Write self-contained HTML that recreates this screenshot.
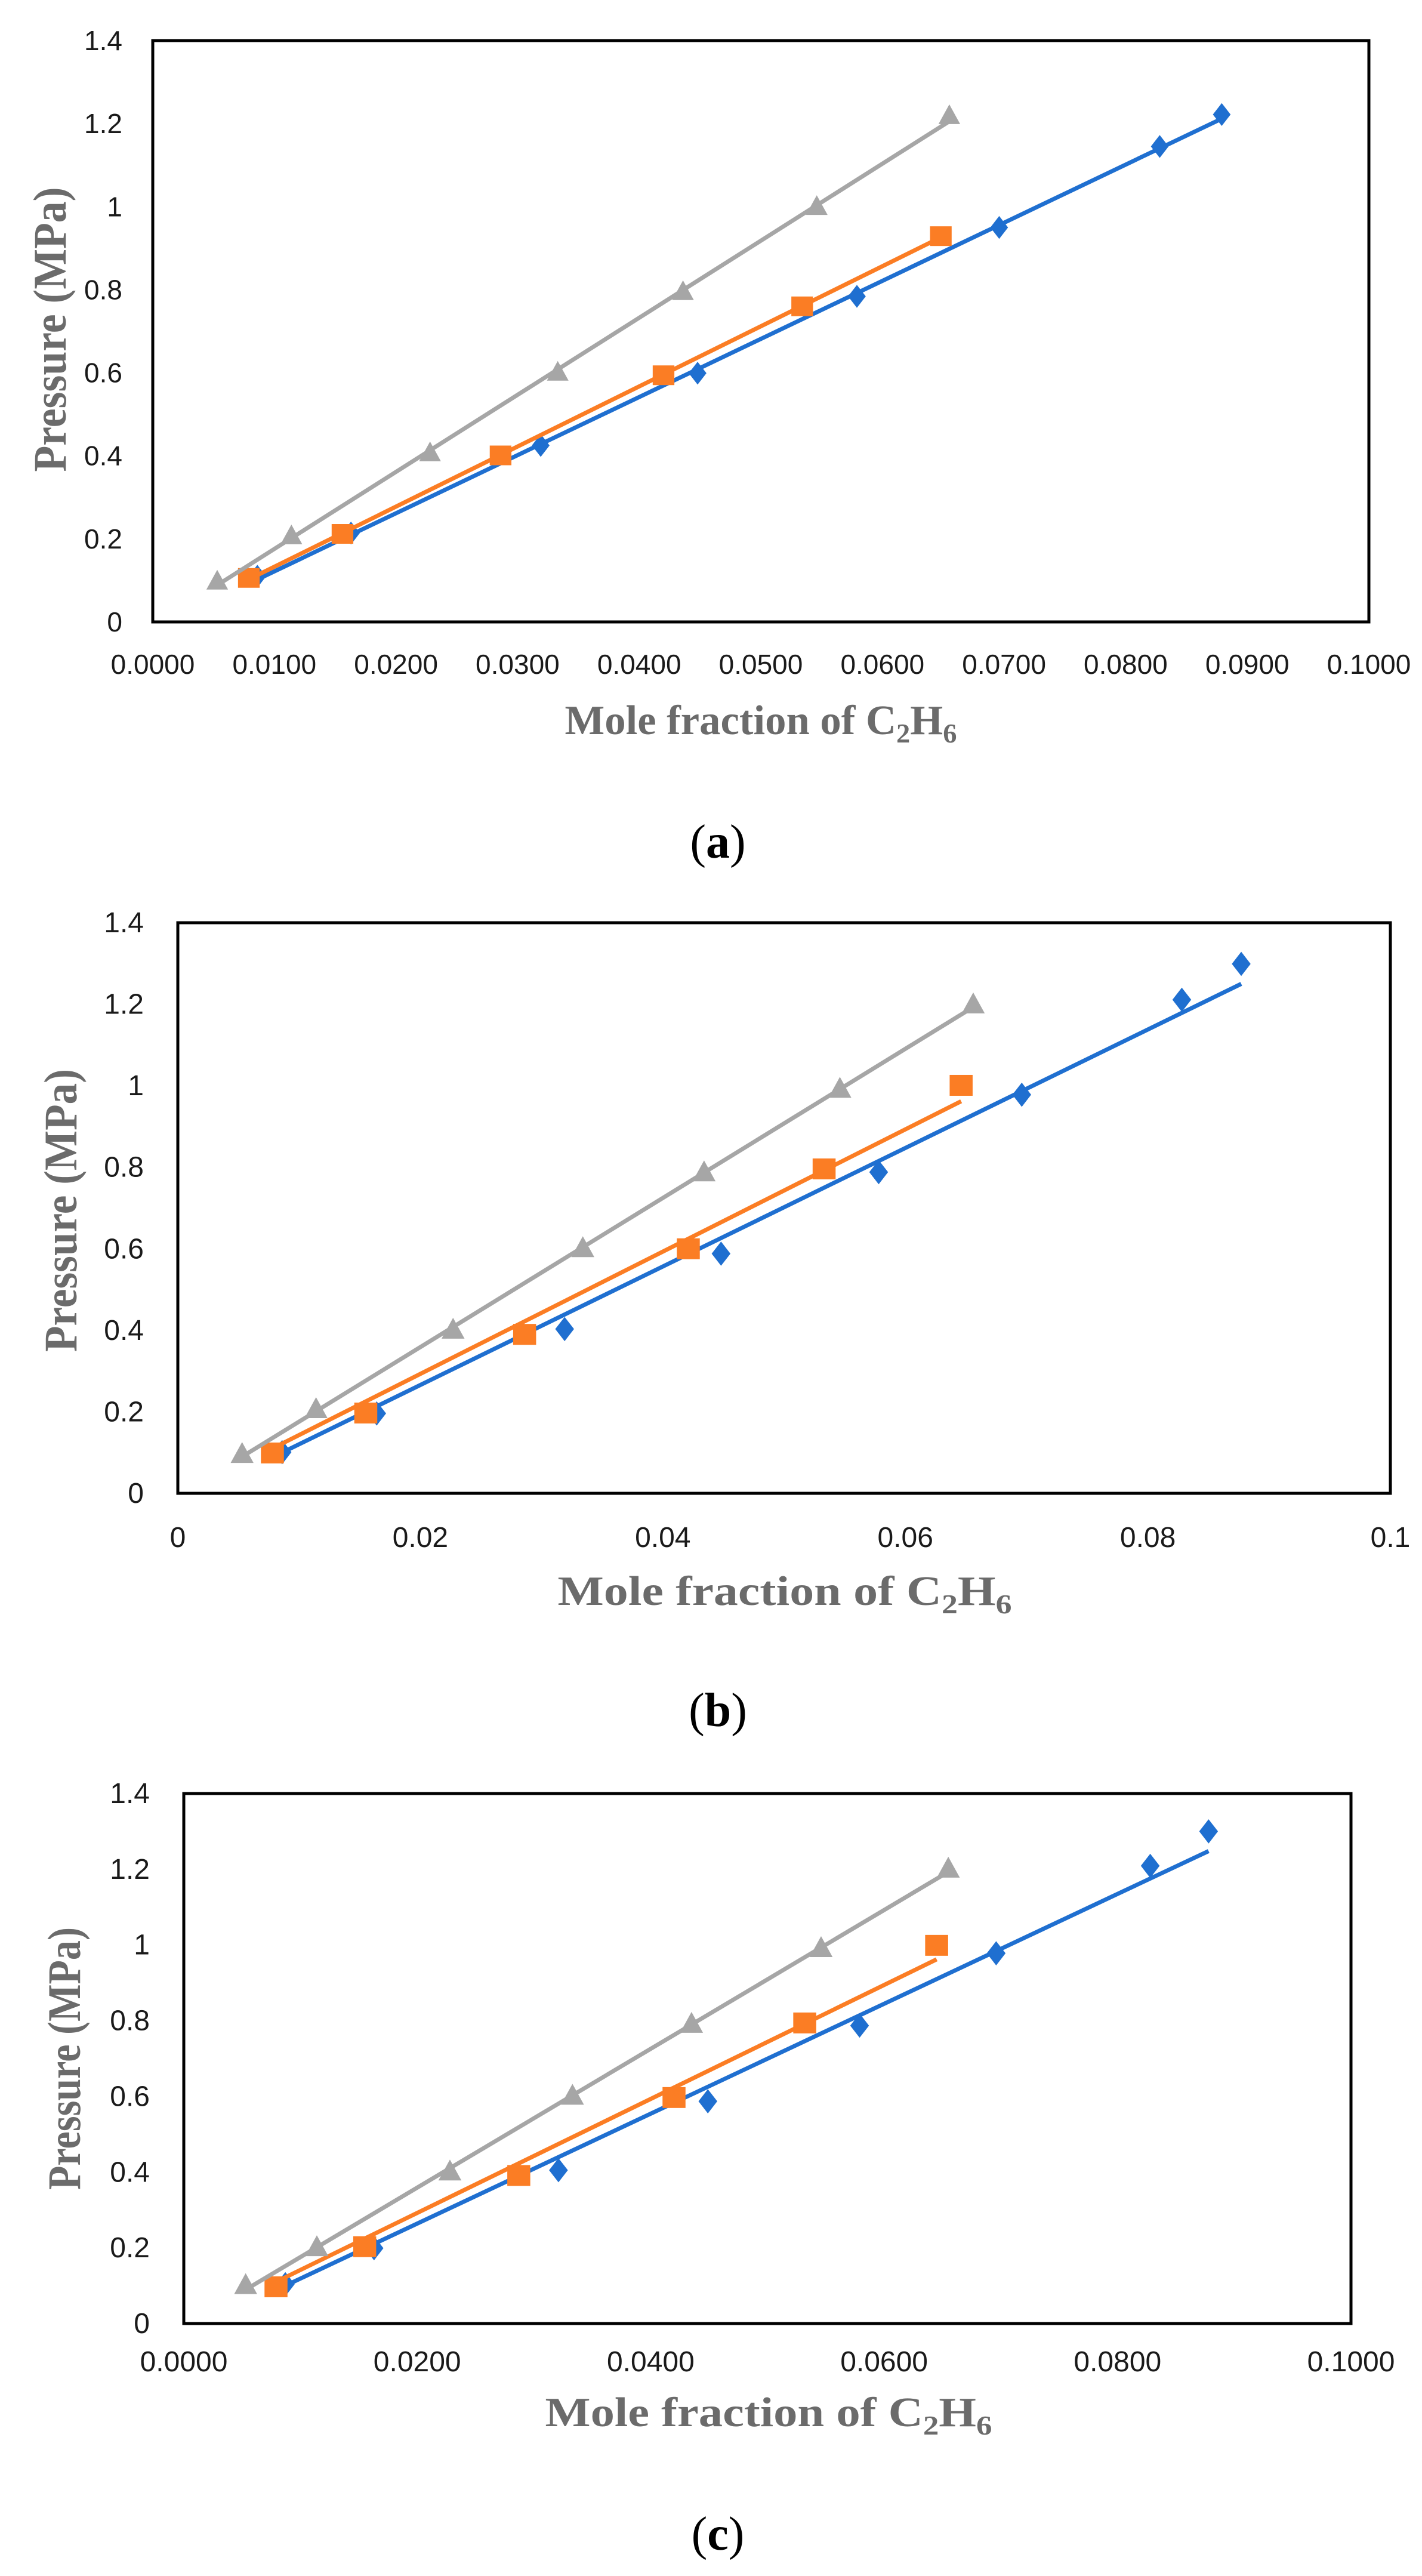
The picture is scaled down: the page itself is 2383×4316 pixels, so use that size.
<!DOCTYPE html>
<html><head><meta charset="utf-8"><style>
html,body{margin:0;padding:0;background:#fff;}
svg{display:block;}
</style></head><body>
<svg id="fig" xmlns="http://www.w3.org/2000/svg" width="2383" height="4316" viewBox="0 0 2383 4316">
<rect width="2383" height="4316" fill="#fff"/>
</svg>
<script>
// ---------- Chart (a) data ----------
const aBlueX = [0.0086,0.0163,0.0319,0.0448,0.0579,0.0696,0.0828,0.0879];
const aBlueY = [0.110,0.214,0.425,0.599,0.784,0.950,1.145,1.222];
const aOrangeX = [0.0079,0.0156,0.0286,0.0420,0.0534,0.0648];
const aOrangeY = [0.106,0.212,0.401,0.594,0.760,0.929];
const aGreyX = [0.0053,0.0114,0.0228,0.0333,0.0436,0.0546,0.0655];
const aGreyY = [0.097,0.206,0.406,0.600,0.794,0.999,1.218];
const aXTicks = ["0.0000","0.0100","0.0200","0.0300","0.0400","0.0500","0.0600","0.0700","0.0800","0.0900","0.1000"];
const aYTicks = ["0","0.2","0.4","0.6","0.8","1","1.2","1.4"];
// ---------- Chart (b) data ----------
const bBlueX = [0.0086,0.0164,0.0319,0.0448,0.0578,0.0696,0.0828,0.0877];
const bBlueY = [0.101,0.196,0.403,0.588,0.788,0.978,1.211,1.299];
const bOrangeX = [0.0078,0.0155,0.0286,0.0421,0.0533,0.0646];
const bOrangeY = [0.099,0.197,0.390,0.600,0.796,1.001];
const bGreyX = [0.0053,0.0114,0.0227,0.0334,0.0434,0.0546,0.0656];
const bGreyY = [0.095,0.205,0.400,0.600,0.786,0.991,1.198];
const bBlueTrend = [0.100, 1.250];
const bOrangeTrend = [0.110, 0.962];
const bXTicks = ["0","0.02","0.04","0.06","0.08","0.1"];
const bYTicks = ["0","0.2","0.4","0.6","0.8","1","1.2","1.4"];
// ---------- Chart (c) data ----------
const cBlueX = [0.0087,0.0163,0.0321,0.0449,0.0579,0.0696,0.0828,0.0878];
const cBlueY = [0.104,0.199,0.405,0.587,0.787,0.978,1.209,1.300];
const cOrangeX = [0.0079,0.0155,0.0287,0.0420,0.0532,0.0645];
const cOrangeY = [0.097,0.203,0.391,0.597,0.794,0.999];
const cGreyX = [0.0053,0.0114,0.0228,0.0333,0.0435,0.0546,0.0655];
const cGreyY = [0.100,0.200,0.400,0.600,0.790,0.990,1.200];
const cBlueTrend = [0.100, 1.248];
const cOrangeTrend = [0.110, 0.962];
const cXTicks = ["0.0000","0.0200","0.0400","0.0600","0.0800","0.1000"];
const cYTicks = ["0","0.2","0.4","0.6","0.8","1","1.2","1.4"];

const NS = "http://www.w3.org/2000/svg";
const svg = document.getElementById('fig');
const BLUE="#1f6fd0", ORANGE="#fb7d24", GREY="#a6a6a6";

function mk(tag, attrs, parent){
  const e = document.createElementNS(NS, tag);
  for (const k in attrs) e.setAttribute(k, attrs[k]);
  parent.appendChild(e);
  return e;
}
function fit(xs, ys){
  const n=xs.length; let sx=0,sy=0,sxx=0,sxy=0;
  for(let i=0;i<n;i++){sx+=xs[i];sy+=ys[i];sxx+=xs[i]*xs[i];sxy+=xs[i]*ys[i];}
  const m=(n*sxy-sx*sy)/(n*sxx-sx*sx); return {m:m,b:(sy-m*sx)/n};
}

function drawChart(cfg){
  const g = mk('g', {}, svg);
  
  
  const X = v => cfg.L + (v - 0) / 0.1 * (cfg.R - cfg.L);
  const Y = v => cfg.B - v / 1.4 * (cfg.B - cfg.T);
  cfg.yTicks.forEach((t,i)=>{
    const v = i*0.2;
    const tx = mk('text', {x:cfg.yLabRight, y:Y(v)+16, 'text-anchor':'end', 'font-family':'Liberation Sans, sans-serif', 'font-size':cfg.tickFs, fill:'#1a1a1a'}, g);
    
    
    tx.textContent = t;
  });
  const step = 0.1/(cfg.xTicks.length-1);
  cfg.xTicks.forEach((t,i)=>{
    const tx = mk('text', {x:X(i*step), y:cfg.xLabY, 'text-anchor':'middle', 'font-family':'Liberation Sans, sans-serif', 'font-size':cfg.tickFs, fill:'#1a1a1a'}, g);
    
    
    tx.textContent = t;
  });
  const series = [
    {name:'blue-series', xs:cfg.blueX, ys:cfg.blueY, col:BLUE, m:'diamond', tr:cfg.blueTrend},
    {name:'orange-series', xs:cfg.orangeX, ys:cfg.orangeY, col:ORANGE, m:'square', tr:cfg.orangeTrend},
    {name:'grey-series', xs:cfg.greyX, ys:cfg.greyY, col:GREY, m:'triangle', tr:null}
  ];
  series.forEach(s=>{
    const sg = mk('g', {}, g);
    
    
    const f = fit(s.xs, s.ys);
    const x0 = Math.min(...s.xs), x1 = Math.max(...s.xs);
    const y0 = s.tr ? s.tr[0] : f.m*x0+f.b;
    const y1 = s.tr ? s.tr[1] : f.m*x1+f.b;
    const ln = mk('line', {x1:X(x0), y1:Y(y0), x2:X(x1), y2:Y(y1), stroke:s.col, 'stroke-width':7}, sg);
    
    
    s.xs.forEach((xv,i)=>{
      const px=X(xv), py=Y(s.ys[i]); let el;
      const w=cfg.mk, h=cfg.mk;
      if(s.m==='diamond'){
        el = mk('polygon', {points:`${px},${py-h*0.58} ${px+w*0.45},${py} ${px},${py+h*0.58} ${px-w*0.45},${py}`, fill:s.col}, sg);
      } else if(s.m==='square'){
        el = mk('rect', {x:px-w*0.55, y:py-h*0.5, width:w*1.1, height:h, fill:s.col}, sg);
      } else {
        el = mk('polygon', {points:`${px},${py-h*0.6} ${px+w*0.55},${py+h*0.4} ${px-w*0.55},${py+h*0.4}`, fill:s.col}, sg);
      }
      
      
    });
  });
  const fr = mk('rect', {x:cfg.L, y:cfg.T, width:cfg.R-cfg.L, height:cfg.B-cfg.T, fill:'none', stroke:'#000', 'stroke-width':5}, g);
  
  
  const xt = mk('text', {x:cfg.xtX, y:cfg.xtY, 'text-anchor':'middle', 'font-family':'Liberation Serif, serif', 'font-weight':'bold', 'font-size':70, fill:'#6b6b6b', textLength:cfg.xtLen, lengthAdjust:'spacingAndGlyphs'}, g);
  
  
  xt.innerHTML = 'Mole fraction of C<tspan font-size="46" dy="14">2</tspan><tspan dy="-14">H</tspan><tspan font-size="46" dy="14">6</tspan>';
  const yt = mk('text', {x:0, y:0, transform:`translate(${cfg.ytX},${cfg.ytY}) rotate(-90)`, 'text-anchor':'middle', 'font-family':'Liberation Serif, serif', 'font-weight':'bold', 'font-size':78, fill:'#6b6b6b', textLength:cfg.ytLen, lengthAdjust:'spacingAndGlyphs'}, g);
  
  
  yt.textContent = 'Pressure (MPa)';
  const cap = mk('text', {x:1203, y:cfg.capY, 'text-anchor':'middle', 'font-family':'Liberation Serif, serif', 'font-size':80, fill:'#000'}, svg);
  
  
  cap.innerHTML = '(<tspan font-weight="bold">' + cfg.id + '</tspan>)';
}

drawChart({id:'a', L:256, R:2294, T:68, B:1042, blueX:aBlueX, blueY:aBlueY, orangeX:aOrangeX, orangeY:aOrangeY, greyX:aGreyX, greyY:aGreyY,
  blueTrend:null, orangeTrend:null,
  xTicks:aXTicks, yTicks:aYTicks, yLabRight:205, xLabY:1129, tickFs:46, mk:33,
  xtX:1275, xtY:1230, xtLen:657, ytX:110, ytY:552, ytLen:477, capY:1437});
drawChart({id:'b', L:298, R:2330, T:1546, B:2502, blueX:bBlueX, blueY:bBlueY, orangeX:bOrangeX, orangeY:bOrangeY, greyX:bGreyX, greyY:bGreyY,
  blueTrend:bBlueTrend, orangeTrend:bOrangeTrend,
  xTicks:bXTicks, yTicks:bYTicks, yLabRight:241, xLabY:2592, tickFs:48, mk:35,
  xtX:1315, xtY:2689, xtLen:761, ytX:128, ytY:2028, ytLen:474, capY:2892});
drawChart({id:'c', L:308, R:2264, T:3005, B:3893, blueX:cBlueX, blueY:cBlueY, orangeX:cOrangeX, orangeY:cOrangeY, greyX:cGreyX, greyY:cGreyY,
  blueTrend:cBlueTrend, orangeTrend:cOrangeTrend,
  xTicks:cXTicks, yTicks:cYTicks, yLabRight:251, xLabY:3973, tickFs:48, mk:35,
  xtX:1288, xtY:4065, xtLen:749, ytX:134, ytY:3449, ytLen:440, capY:4272});
</script>
</body></html>
